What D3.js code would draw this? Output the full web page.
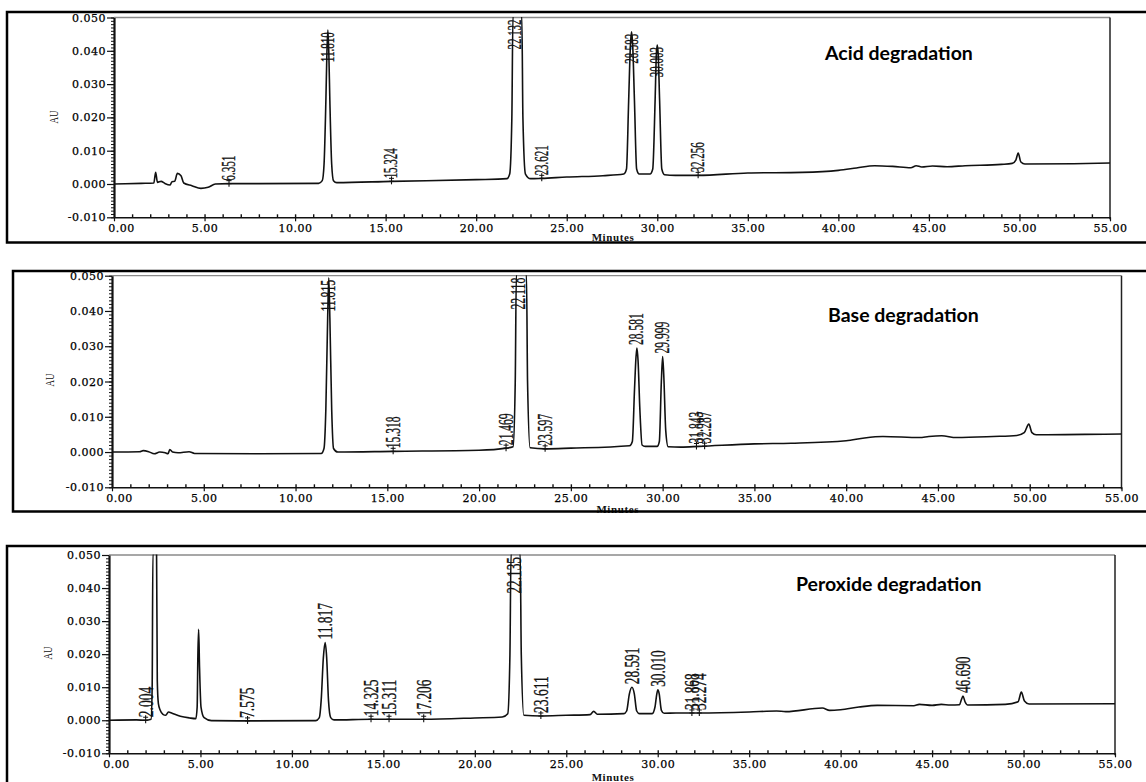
<!DOCTYPE html>
<html><head><meta charset="utf-8">
<script src="https://cdn.jsdelivr.net/npm/d3@7"></script>
<style>body{margin:0;background:#fff;} svg{display:block;}</style>
</head><body>
<svg id="c" width="1146" height="782"></svg>
<script>
// ---------- data ----------
const xTicks = [0,5,10,15,20,25,30,35,40,45,50,55];
const yTicks = [-0.010,0.000,0.010,0.020,0.030,0.040,0.050];
const titles = ["Acid degradation","Base degradation","Peroxide degradation"];

// trace points [minutes, AU]
const acidTrace = [[0,0],[1.5,0.0002],[2.2,0.0003],[2.3,0.0035],[2.4,0.0005],[2.6,0.0008],[2.8,0.0002],[3.1,-0.0003],[3.2,0.0007],[3.35,0.0008],[3.5,0.0032],[3.7,0.0025],[3.85,0.0003],[4.3,-0.0005],[4.8,-0.0013],[5.2,-0.001],[5.6,0],[6.351,0.0001],[8,0.0001],[11.3,0.0002],[11.5,0.001],[11.6,0.006],[11.7,0.025],[11.76,0.040],[11.81,0.0462],[11.86,0.040],[11.92,0.025],[12.02,0.006],[12.12,0.001],[12.3,0.0004],[15.324,0.0008],[20,0.0013],[21.7,0.0016],[21.85,0.003],[21.97,0.02],[22.03,0.0505],[22.52,0.0505],[22.58,0.02],[22.72,0.003],[23,0.0016],[23.621,0.0017],[25,0.0021],[27,0.0025],[28.15,0.003],[28.3,0.0045],[28.42,0.025],[28.52,0.042],[28.58,0.0457],[28.64,0.042],[28.74,0.025],[28.86,0.0045],[29,0.003],[29.6,0.003],[29.75,0.0045],[29.88,0.025],[29.95,0.039],[30.0,0.0417],[30.05,0.039],[30.13,0.025],[30.25,0.0045],[30.4,0.0028],[31,0.0026],[32.256,0.0026],[35,0.0033],[38,0.0035],[40,0.0041],[41,0.0048],[42,0.0055],[43,0.0053],[44,0.0049],[44.3,0.0055],[44.6,0.0051],[45.2,0.0054],[46,0.0052],[47,0.0055],[49,0.0059],[49.6,0.0062],[49.8,0.0072],[49.93,0.0093],[50.08,0.0066],[50.3,0.006],[53,0.0061],[55,0.0063]];
const baseTrace = [[0,0],[1.5,0.0001],[1.7,0.0004],[2.0,0.0001],[2.3,-0.0005],[2.6,0],[2.9,-0.0002],[3.05,-0.0005],[3.15,0.0007],[3.3,0],[3.6,-0.0002],[4.2,0.0001],[4.5,-0.0004],[8,-0.0005],[11.4,-0.0004],[11.55,0.001],[11.65,0.012],[11.75,0.038],[11.81,0.0494],[11.87,0.038],[11.97,0.012],[12.07,0.001],[12.3,0],[15.318,0.0002],[20,0.0005],[21.469,0.0011],[21.85,0.0015],[21.97,0.02],[22.03,0.0505],[22.58,0.0505],[22.64,0.02],[22.78,0.0012],[23.597,0.0009],[25,0.0011],[28.2,0.0018],[28.35,0.003],[28.47,0.018],[28.55,0.027],[28.6,0.0295],[28.66,0.026],[28.76,0.012],[28.88,0.002],[29.05,0.0016],[29.7,0.0016],[29.82,0.003],[29.93,0.02],[30.0,0.0271],[30.06,0.022],[30.17,0.006],[30.3,0.0015],[31,0.0014],[32,0.0016],[35,0.0023],[37,0.0025],[40,0.0032],[41,0.004],[42,0.0044],[44,0.0041],[44.5,0.0044],[45.2,0.0046],[46,0.0041],[48,0.0044],[49.3,0.0047],[49.7,0.0055],[49.95,0.0079],[50.12,0.0055],[50.35,0.0049],[53,0.005],[55,0.0051]];
const peroxTrace = [[0,0],[1.5,0.0001],[2.0,0],[2.3,0.0003],[2.36,0.01],[2.4,0.0505],[2.6,0.0505],[2.64,0.012],[2.7,0.005],[2.8,0.003],[2.95,0.0018],[3.1,0.0015],[3.25,0.0025],[3.45,0.0021],[3.9,0.0012],[4.4,0.0007],[4.75,0.0005],[4.82,0.004],[4.86,0.02],[4.9,0.0275],[4.95,0.016],[5.03,0.004],[5.2,0.0008],[5.6,-0.0001],[7.575,-0.0002],[11.3,-0.0001],[11.5,0.0008],[11.6,0.006],[11.72,0.019],[11.817,0.0235],[11.9,0.019],[12.0,0.006],[12.12,0.0008],[12.3,0.0001],[14.325,0.0003],[15.311,0.0003],[17.206,0.0003],[20,0.0007],[21.5,0.001],[21.8,0.002],[21.92,0.02],[21.98,0.0505],[22.48,0.0505],[22.54,0.02],[22.68,0.0015],[23.611,0.0013],[25,0.0015],[26.3,0.0017],[26.5,0.0027],[26.7,0.0018],[28.15,0.002],[28.3,0.0028],[28.45,0.008],[28.59,0.010],[28.72,0.008],[28.85,0.0028],[29,0.002],[29.7,0.002],[29.85,0.004],[29.95,0.008],[30.01,0.0092],[30.08,0.008],[30.2,0.003],[30.35,0.0021],[31,0.0022],[31.868,0.0022],[32.274,0.0022],[35,0.0025],[36.5,0.0028],[37,0.0026],[39,0.0037],[39.4,0.003],[40,0.0032],[41,0.004],[42,0.0045],[44,0.0044],[44.3,0.0048],[45,0.0045],[45.5,0.0048],[46,0.0046],[46.5,0.0047],[46.6,0.0062],[46.69,0.0073],[46.8,0.0056],[46.95,0.0046],[49,0.0048],[49.7,0.0056],[49.88,0.0085],[50.05,0.0058],[50.3,0.0049],[55,0.005]];

const acidPeaks  = [6.351, 11.810, 15.324, 22.132, 23.621, 28.583, 30.003, 32.256];
const basePeaks  = [11.815, 15.318, 21.469, 22.118, 23.597, 28.581, 29.999, 31.843, 32.287];
const peroxPeaks = [2.004, 7.575, 11.817, 14.325, 15.311, 17.206, 22.135, 23.611, 28.591, 30.010, 31.868, 32.274, 46.690];

// ---------- layout ----------
const panels = [
  {title:titles[0], trace:acidTrace, peaks:acidPeaks,
   box:{x0:7,y0:12,y1:242.5}, plot:{x0:114,x1:1110,yTop:17.5,yBot:217.3},
   lab:{fs:18,len:5.0}, titlePos:[825,60], au:[53,117], minutesY:241},
  {title:titles[1], trace:baseTrace, peaks:basePeaks,
   box:{x0:13,y0:271,y1:511.5}, plot:{x0:112,x1:1121.5,yTop:275.7,yBot:487.3},
   lab:{fs:20,len:5.3}, titlePos:[828,322], au:[49,380], minutesY:513},
  {title:titles[2], trace:peroxTrace, peaks:peroxPeaks,
   box:{x0:7,y0:546,y1:800}, plot:{x0:109,x1:1115,yTop:555,yBot:753.3},
   lab:{fs:21,len:6.1}, titlePos:[796,591], au:[47,653], minutesY:781}
];

const svg = d3.select("#c");
const defs = svg.append("defs");

function interp(tr,t){
  for(let k=1;k<tr.length;k++){
    if(tr[k][0]>=t){const a=tr[k-1],b=tr[k];return a[1]+(b[1]-a[1])*(t-a[0])/(b[0]-a[0]);}
  }
  return tr[tr.length-1][1];
}

function styleAxis(a, w){
  a.select(".domain").attr("stroke","#111").attr("stroke-width",w);
  a.selectAll(".tick line").attr("stroke","#111").attr("stroke-width",1.2);
  a.selectAll("text").attr("font-family","'DejaVu Serif', serif").attr("font-size",11)
    .attr("fill","#000").attr("stroke","#000").attr("stroke-width",0.25).attr("letter-spacing","0.5px");
}

panels.forEach((p,i)=>{
  const g = svg.append("g");
  const x = d3.scaleLinear().domain([0,55]).range([p.plot.x0,p.plot.x1]);
  const y = d3.scaleLinear().domain([-0.010,0.050]).range([p.plot.yBot,p.plot.yTop]);

  // plot frame: top gray line, right dark line
  g.append("line").attr("x1",p.plot.x0).attr("x2",p.plot.x1).attr("y1",p.plot.yTop).attr("y2",p.plot.yTop)
    .attr("stroke","#8a8a8a").attr("stroke-width",1.3);
  g.append("line").attr("x1",p.plot.x1).attr("x2",p.plot.x1).attr("y1",p.plot.yTop).attr("y2",p.plot.yBot+2)
    .attr("stroke","#222").attr("stroke-width",1.5);

  // clip
  const cid = "clip"+i;
  defs.append("clipPath").attr("id",cid).append("rect")
    .attr("x",p.plot.x0).attr("y",p.plot.yTop-0.5)
    .attr("width",p.plot.x1-p.plot.x0).attr("height",p.plot.yBot-p.plot.yTop+0.5);

  // trace
  g.append("path").datum(p.trace).attr("clip-path",`url(#${cid})`)
    .attr("d", d3.line().x(d=>x(d[0])).y(d=>y(d[1])).curve(d3.curveMonotoneX))
    .attr("fill","none").attr("stroke","#111").attr("stroke-width",1.6).attr("stroke-linejoin","round");

  // y axis minor + major
  const minorY = d3.range(-10,51).map(k=>k/1000);
  g.append("g").attr("transform",`translate(${p.plot.x0},0)`)
    .call(d3.axisLeft(y).tickValues(minorY).tickSize(3).tickFormat(""))
    .call(a=>{a.select(".domain").remove(); a.selectAll("line").attr("stroke","#111").attr("stroke-width",1);});
  g.append("g").attr("transform",`translate(${p.plot.x0},0)`)
    .call(d3.axisLeft(y).tickValues(yTicks).tickSize(7).tickSizeOuter(0).tickPadding(1).tickFormat(d=>d.toFixed(3)))
    .call(a=>styleAxis(a,2.2));

  // x axis minor + major
  g.append("g").attr("transform",`translate(0,${p.plot.yBot})`)
    .call(d3.axisTop(x).tickValues(d3.range(1,55)).tickSize(3).tickFormat(""))
    .call(a=>{a.select(".domain").remove(); a.selectAll("line").attr("stroke","#111").attr("stroke-width",1.4);});
  g.append("g").attr("transform",`translate(0,${p.plot.yBot})`)
    .call(d3.axisBottom(x).tickValues(xTicks).tickSize(4).tickSizeOuter(0).tickPadding(3).tickFormat(d=>d.toFixed(2)))
    .call(a=>styleAxis(a,1.6))
    .call(a=>a.selectAll(".tick text").filter(d=>d===0).attr("dx",7));

  // peak labels
  p.peaks.forEach(t=>{
    let apex = interp(p.trace,t), base = apex;
    p.trace.forEach(d=>{
      if(Math.abs(d[0]-t)<=0.15 && d[1]>apex) apex=d[1];
      if(Math.abs(d[0]-t)<=0.6 && d[1]<base) base=d[1];
    });
    const label = t.toFixed(3);
    const L = label.length*p.lab.len;
    const ya = y(apex);
    let bottom = ya-3;
    if(bottom-L < p.plot.yTop+1){ bottom = Math.max(ya,p.plot.yTop)+2+L; }
    const cx = x(t);
    if(apex-base < 0.002){
      const yb = y(interp(p.trace,t));
      g.append("line").attr("x1",cx).attr("x2",cx).attr("y1",yb-5).attr("y2",yb+3).attr("stroke","#111").attr("stroke-width",1.1);
      g.append("line").attr("x1",cx-2.5).attr("x2",cx+2.5).attr("y1",yb-3).attr("y2",yb-3).attr("stroke","#111").attr("stroke-width",1);
      g.append("line").attr("x1",cx-2.5).attr("x2",cx+2.5).attr("y1",yb).attr("y2",yb).attr("stroke","#111").attr("stroke-width",1);
    }
    g.append("text")
      .attr("transform",`translate(${cx},${bottom}) rotate(-90)`)
      .attr("dy","0.33em")
      .attr("font-family","'Liberation Serif', serif").attr("font-size",p.lab.fs)
      .attr("textLength",L).attr("lengthAdjust","spacingAndGlyphs")
      .attr("fill","#111").attr("stroke","#111").attr("stroke-width",0.35).text(label);
  });

  // AU label
  g.append("text").attr("transform",`translate(${p.au[0]},${p.au[1]}) rotate(-90)`)
    .attr("text-anchor","middle").attr("dy","0.35em")
    .attr("font-family","'Liberation Serif', serif").attr("font-size",13)
    .attr("textLength",13).attr("lengthAdjust","spacingAndGlyphs").attr("fill","#111").text("AU");

  // Minutes
  g.append("text").attr("x",(p.plot.x0+p.plot.x1)/2+1).attr("y",p.minutesY)
    .attr("text-anchor","middle").attr("font-family","'Liberation Serif', serif").attr("font-weight","bold")
    .attr("font-size",11).attr("letter-spacing","0.6px").attr("fill","#111").text("Minutes");

  // title
  g.append("text").attr("x",p.titlePos[0]).attr("y",p.titlePos[1])
    .attr("font-family","Lato, 'Open Sans', sans-serif").attr("font-weight","bold")
    .attr("font-size",19.5).attr("fill","#000").text(p.title);

  // outer box
  g.append("rect").attr("x",p.box.x0).attr("y",p.box.y0)
    .attr("width",1146-p.box.x0+20).attr("height",p.box.y1-p.box.y0)
    .attr("fill","none").attr("stroke","#000").attr("stroke-width",2.5);
});
</script>
</body></html>
